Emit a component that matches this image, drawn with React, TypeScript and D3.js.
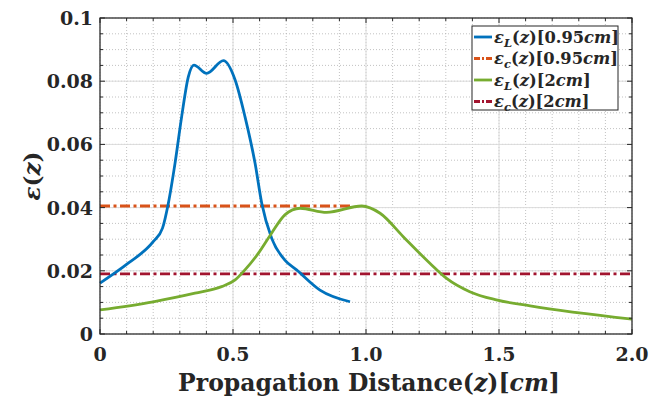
import React from "react";
import * as d3 from "d3";

const blueZ = [0, 0.106, 0.2, 0.235, 0.257, 0.282, 0.307, 0.332, 0.353, 0.401, 0.464, 0.508, 0.545, 0.583, 0.608, 0.645, 0.695, 0.739, 0.827, 0.94];
const blueE = [0.0161, 0.0224, 0.0292, 0.0335, 0.0414, 0.054, 0.0688, 0.0814, 0.0851, 0.0825, 0.0865, 0.0804, 0.0688, 0.054, 0.0414, 0.0304, 0.0234, 0.0203, 0.0139, 0.0102];
const greenZ = [0, 0.2, 0.357, 0.457, 0.508, 0.545, 0.595, 0.645, 0.695, 0.752, 0.852, 0.984, 1.053, 1.14, 1.24, 1.303, 1.39, 1.49, 1.617, 2.0];
const greenE = [0.0076, 0.0102, 0.0129, 0.015, 0.0171, 0.0203, 0.0255, 0.0319, 0.0377, 0.0398, 0.0385, 0.0405, 0.0382, 0.0308, 0.0224, 0.0176, 0.0134, 0.0108, 0.0089, 0.0047];
const orangeLevel = 0.0405;
const orangeRange = [0, 0.94];
const crimsonLevel = 0.019;
const crimsonRange = [0, 2.0];
const xTicks = [0, 0.5, 1.0, 1.5, 2.0];
const xTickLabels = ["0", "0.5", "1.0", "1.5", "2.0"];
const yTicks = [0, 0.02, 0.04, 0.06, 0.08, 0.1];
const yTickLabels = ["0", "0.02", "0.04", "0.06", "0.08", "0.1"];

const W = 651, H = 399;
const L = 100, R = 632, T = 18, B = 334;
const FONT = "'DejaVu Serif', serif";

export default function App() {
  const x = d3.scaleLinear().domain([0, 2]).range([L, R]);
  const y = d3.scaleLinear().domain([0, 0.1]).range([B, T]);
  const line = d3.line<[number, number]>().x(d => x(d[0])).y(d => y(d[1])).curve(d3.curveMonotoneX);
  const blue = line(blueZ.map((z, i) => [z, blueE[i]]))!;
  const green = line(greenZ.map((z, i) => [z, greenE[i]]))!;
  const flat = d3.line<[number, number]>().x(d => x(d[0])).y(d => y(d[1]));
  const orange = flat(orangeRange.map(z => [z, orangeLevel] as [number, number]))!;
  const crimson = flat(crimsonRange.map(z => [z, crimsonLevel] as [number, number]))!;

  const xMinor = d3.range(0, 2.0001, 0.1);
  const yMinor = d3.range(0, 0.10001, 0.005);
  const axisColor = "#262626";
  const dash = "10 3.5 3 3.5";

  const legend = [
    { color: "#0072BD", dash: null, sub: "L", tag: ["0.95", "cm"] },
    { color: "#D95319", dash: dash, sub: "c", tag: ["0.95", "cm"] },
    { color: "#77AC30", dash: null, sub: "L", tag: ["2", "cm"] },
    { color: "#A2142F", dash: dash, sub: "c", tag: ["2", "cm"] },
  ];

  return (
    <svg width={W} height={H} style={{ display: "block", position: "absolute", left: 0, top: 0 }}>
      <rect x={0} y={0} width={W} height={H} fill="#fff" />
      <rect x={L} y={T} width={R - L} height={B - T} fill="#fff" />
      {/* minor grid */}
      {xMinor.map((v, i) => (
        <line key={"xm" + i} x1={x(v)} x2={x(v)} y1={T} y2={B} stroke="#a8a8a8" strokeWidth={0.7} strokeDasharray="1 2" />
      ))}
      {yMinor.map((v, i) => (
        <line key={"ym" + i} x1={L} x2={R} y1={y(v)} y2={y(v)} stroke="#a8a8a8" strokeWidth={0.7} strokeDasharray="1 2" />
      ))}
      {/* major grid */}
      {xTicks.map((v, i) => (
        <line key={"xg" + i} x1={x(v)} x2={x(v)} y1={T} y2={B} stroke="#dcdcdc" strokeWidth={1} />
      ))}
      {yTicks.map((v, i) => (
        <line key={"yg" + i} x1={L} x2={R} y1={y(v)} y2={y(v)} stroke="#dcdcdc" strokeWidth={1} />
      ))}
      {/* data */}
      <path d={orange} fill="none" stroke="#D95319" strokeWidth={2.8} strokeDasharray={dash} />
      <path d={crimson} fill="none" stroke="#A2142F" strokeWidth={2.8} strokeDasharray={dash} />
      <path d={blue} fill="none" stroke="#0072BD" strokeWidth={2.8} />
      <path d={green} fill="none" stroke="#77AC30" strokeWidth={2.8} />
      {/* ticks */}
      {xMinor.map((v, i) => {
        const major = xTicks.some(t => Math.abs(t - v) < 1e-6);
        const len = major ? 5 : 3;
        return (
          <g key={"xt" + i}>
            <line x1={x(v)} x2={x(v)} y1={B} y2={B - len} stroke={axisColor} strokeWidth={1} />
            <line x1={x(v)} x2={x(v)} y1={T} y2={T + len} stroke={axisColor} strokeWidth={1} />
          </g>
        );
      })}
      {yMinor.map((v, i) => {
        const major = yTicks.some(t => Math.abs(t - v) < 1e-6);
        const len = major ? 5 : 3;
        return (
          <g key={"yt" + i}>
            <line x1={L} x2={L + len} y1={y(v)} y2={y(v)} stroke={axisColor} strokeWidth={1} />
            <line x1={R} x2={R - len} y1={y(v)} y2={y(v)} stroke={axisColor} strokeWidth={1} />
          </g>
        );
      })}
      <rect x={L} y={T} width={R - L} height={B - T} fill="none" stroke={axisColor} strokeWidth={1.2} />
      {/* tick labels */}
      {xTicks.map((v, i) => (
        <text key={"xl" + i} x={x(v)} y={361} textAnchor="middle" fontFamily={FONT} fontWeight="bold" fontSize={19} fill={axisColor}>
          {xTickLabels[i]}
        </text>
      ))}
      {yTicks.map((v, i) => (
        <text key={"yl" + i} x={93} y={y(v) + 7} textAnchor="end" fontFamily={FONT} fontWeight="bold" fontSize={19} fill={axisColor}>
          {yTickLabels[i]}
        </text>
      ))}
      {/* axis labels */}
      <text x={369} y={391} textAnchor="middle" fontFamily={FONT} fontWeight="bold" fontSize={23.5} fill={axisColor}>
        Propagation Distance(<tspan fontStyle="italic">z</tspan>)[<tspan fontStyle="italic">cm</tspan>]
      </text>
      <text transform={`translate(40, ${(T + B) / 2}) rotate(-90)`} textAnchor="middle" fontFamily={FONT} fontWeight="bold" fontSize={23} fill={axisColor}>
        <tspan fontStyle="italic">ε</tspan>(<tspan fontStyle="italic">z</tspan>)
      </text>
      {/* legend */}
      <rect x={472} y={26} width={146} height={84} fill="#fff" stroke={axisColor} strokeWidth={1} />
      {legend.map((e, i) => {
        const cy = 37 + i * 21.5;
        return (
          <g key={"lg" + i}>
            <line x1={474} x2={492} y1={cy} y2={cy} stroke={e.color} strokeWidth={2.8} strokeDasharray={e.dash ? "6 2 2 2" : undefined} />
            <text x={494} y={cy + 5.5} fontFamily={FONT} fontWeight="bold" fontSize={16.3} fill={axisColor}>
              <tspan fontStyle="italic">ε</tspan>
              <tspan fontStyle="italic" fontSize={11.5} dy={4}>{e.sub}</tspan>
              <tspan dy={-4}>(</tspan>
              <tspan fontStyle="italic">z</tspan>)[{e.tag[0]}<tspan fontStyle="italic">{e.tag[1]}</tspan>]
            </text>
          </g>
        );
      })}
    </svg>
  );
}
